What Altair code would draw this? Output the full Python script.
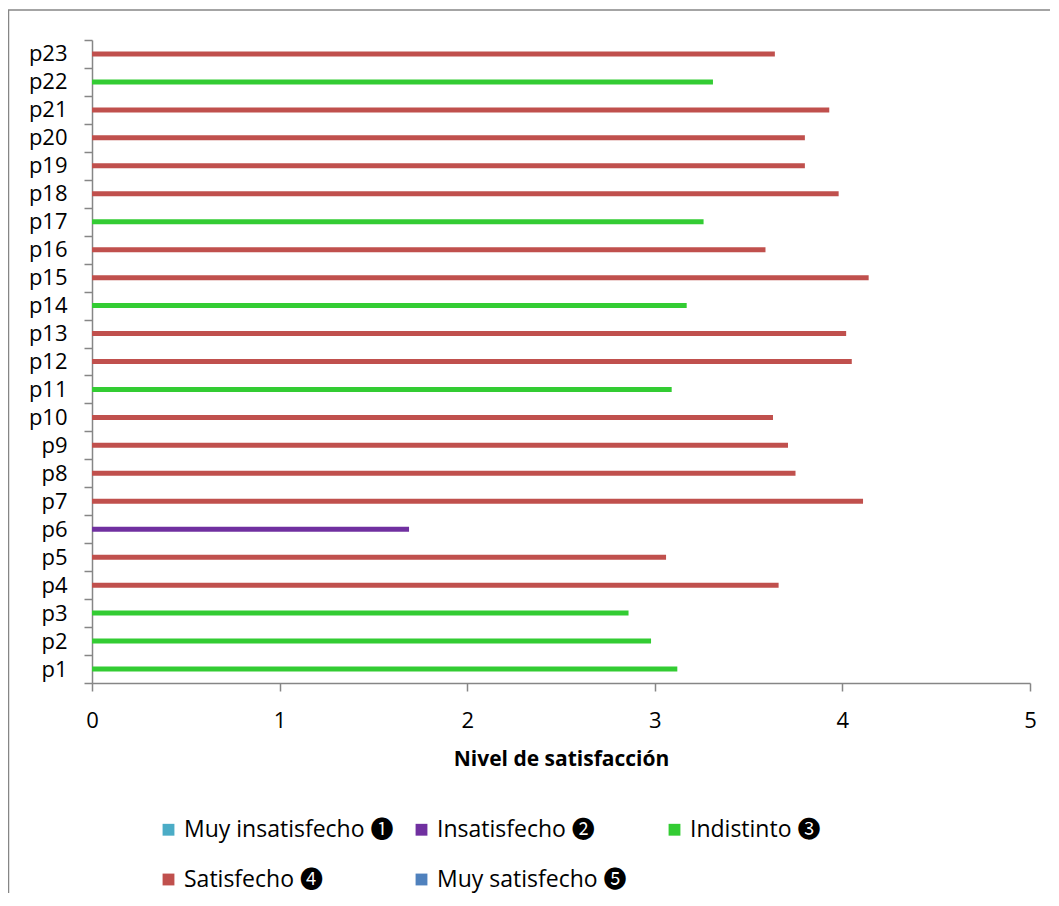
import altair as alt
import pandas as pd

preguntas = ["p1", "p2", "p3", "p4", "p5", "p6", "p7", "p8", "p9", "p10", "p11", "p12",
             "p13", "p14", "p15", "p16", "p17", "p18", "p19", "p20", "p21", "p22", "p23"]
valores = [3.12, 2.98, 2.86, 3.66, 3.06, 1.69, 4.11, 3.75, 3.71, 3.63, 3.09, 4.05,
           4.02, 3.17, 4.14, 3.59, 3.26, 3.98, 3.80, 3.80, 3.93, 3.31, 3.64]
niveles = ["Muy insatisfecho ❶", "Insatisfecho ❷", "Indistinto ❸", "Satisfecho ❹", "Muy satisfecho ❺"]
colores = ["#4BACC6", "#7030A0", "#33CC33", "#C0504D", "#4F81BD"]
nivel_idx = [2, 2, 2, 3, 3, 1, 3, 3, 3, 3, 2, 3, 3, 2, 3, 3, 2, 3, 3, 3, 3, 2, 3]

df = pd.DataFrame({
    "pregunta": preguntas,
    "valor": valores,
    "nivel": [niveles[i] for i in nivel_idx],
})

FONT = "Open Sans"
LEGEND_FONT = "Open Sans, Noto Sans CJK JP"
GRAY = "#868686"

bars = alt.Chart(df).mark_bar(size=5).encode(
    x=alt.X("valor:Q",
            scale=alt.Scale(domain=[0, 5], nice=False),
            axis=alt.Axis(values=[0, 1, 2, 3, 4, 5], title="Nivel de satisfacción",
                          grid=False, domainColor=GRAY, domainWidth=1.5,
                          tickColor=GRAY, tickWidth=1.5, tickSize=8, labelFlush=False,
                          labelFont=FONT, labelFontSize=22, labelColor="black",
                          labelPadding=19, titleFont=FONT, titleFontSize=21,
                          titleFontWeight="bold", titleColor="black", titlePadding=17)),
    y=alt.Y("pregunta:N", sort=preguntas[::-1],
            scale=alt.Scale(paddingInner=0, paddingOuter=0),
            axis=alt.Axis(title=None, tickBand="extent", grid=False,
                          domainColor=GRAY, domainWidth=1.5,
                          tickColor=GRAY, tickWidth=1.5, tickSize=8,
                          labelFont=FONT, labelFontSize=22, labelColor="black",
                          labelPadding=17)),
    color=alt.Color("nivel:N",
                    scale=alt.Scale(domain=niveles, range=colores),
                    legend=alt.Legend(title=None, orient="none", legendX=65, legendY=778,
                                      direction="horizontal",
                                      columns=3, symbolType="square", symbolSize=140,
                                      symbolStrokeWidth=0, labelFont=LEGEND_FONT, labelFontSize=23,
                                      labelColor="black", labelLimit=400, labelOffset=4,
                                      gridAlign="all", columnPadding=16, rowPadding=26,
                                      padding=0)),
)

frame = alt.Chart(pd.DataFrame({"a": [0]})).mark_rect(
    fill=None, stroke=GRAY, strokeWidth=1.5
).encode(
    x=alt.value(-83.5), y=alt.value(-30), x2=alt.value(3000), y2=alt.value(3000)
)

chart = alt.layer(frame, bars).properties(
    width=938, height=643,
    autosize=alt.AutoSizeParams(type="none"),
    padding={"left": 84, "top": 32, "right": 20, "bottom": 210},
).configure_view(stroke=None)

chart.save("out.html", embed_options={"renderer": "svg", "actions": False})
